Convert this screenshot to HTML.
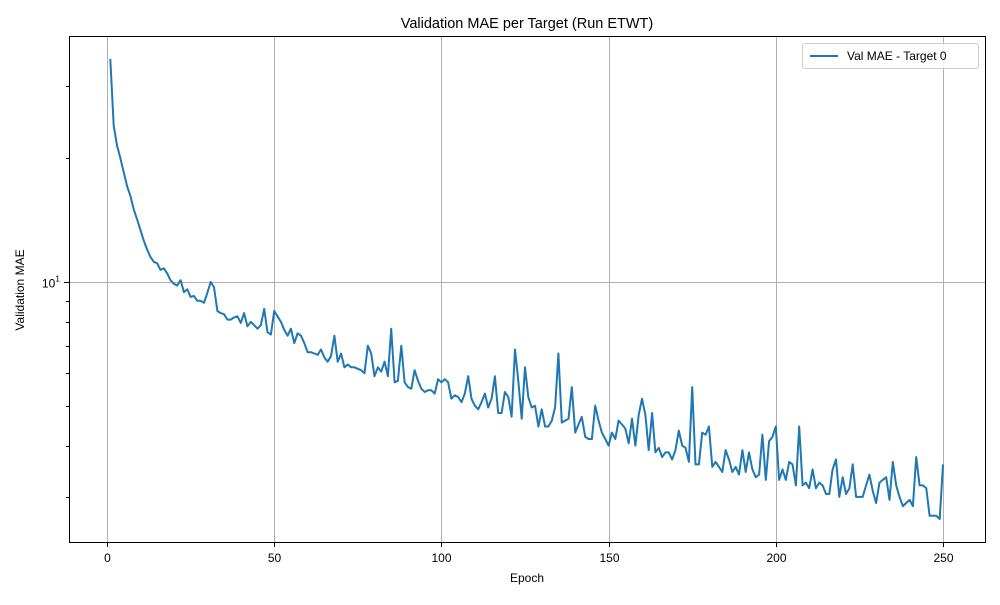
<!DOCTYPE html>
<html><head><meta charset="utf-8"><style>
body{margin:0;background:#fff;font-family:"Liberation Sans","DejaVu Sans",sans-serif}
svg text{font-family:"Liberation Sans","DejaVu Sans",sans-serif;fill:#000}
</style></head><body>
<svg id="chart" width="1000" height="600" xmlns="http://www.w3.org/2000/svg">
<rect width="1000" height="600" fill="#fff"/>
<text x="527" y="28" font-size="14.5" text-anchor="middle">Validation MAE per Target (Run ETWT)</text>
<g id="grid"></g>
<g id="ticks"></g>
<path id="line" fill="none" stroke="#1f77b4" stroke-width="2" stroke-linejoin="round"/>
<rect x="69.5" y="36.5" width="916" height="506" fill="none" stroke="#000" stroke-width="1"/>
<text x="527" y="582" font-size="12" text-anchor="middle">Epoch</text>
<text transform="translate(24,290) rotate(-90)" font-size="12" text-anchor="middle">Validation MAE</text>
<g>
<rect x="802.5" y="43.5" width="176" height="25" rx="3" fill="#fff" fill-opacity="0.8" stroke="#ccc"/>
<line x1="810" y1="56" x2="838" y2="56" stroke="#1f77b4" stroke-width="2"/>
<text x="847" y="60" font-size="12">Val MAE - Target 0</text>
</g>
</svg>
<script>
const values=[34.9,24.0,21.5,20.0,18.5,17.1,16.2,15.0,14.2,13.4,12.6,12.0,11.5,11.2,11.1,10.7,10.8,10.5,10.1,9.9,
9.8,10.1,9.45,9.6,9.2,9.25,9.0,9.0,8.9,9.4,10.0,9.7,8.5,8.4,8.35,8.1,8.1,8.2,8.25,7.95,
8.4,7.8,8.0,7.85,7.7,7.85,8.6,7.55,7.45,8.5,8.25,8.0,7.65,7.4,7.7,7.1,7.5,7.4,7.1,6.75,
6.75,6.7,6.65,6.85,6.55,6.4,6.6,7.4,6.4,6.7,6.2,6.3,6.2,6.2,6.15,6.1,6.0,7.0,6.7,5.9,
6.2,6.05,6.4,5.9,7.7,5.7,5.75,7.0,5.7,5.55,5.5,6.1,5.75,5.5,5.4,5.45,5.45,5.35,5.8,5.7,
5.8,5.7,5.2,5.3,5.25,5.1,5.35,5.9,5.2,5.0,4.9,5.1,5.35,4.95,5.2,5.9,4.8,4.8,5.4,5.25,
4.7,6.85,5.75,4.65,6.2,5.25,4.95,5.0,4.45,4.9,4.45,4.45,4.6,4.95,6.7,4.55,4.6,4.65,5.55,4.3,
4.5,4.7,4.2,4.15,4.15,5.0,4.6,4.3,4.15,4.0,4.3,4.15,4.6,4.5,4.4,4.05,4.65,4.0,4.75,5.2,
4.75,3.9,4.8,3.85,3.95,3.75,3.85,3.85,3.7,3.9,4.35,4.0,3.95,3.65,5.55,3.6,3.6,4.3,4.25,4.45,
3.55,3.65,3.55,3.45,3.9,3.7,3.45,3.55,3.4,3.9,3.45,3.85,3.5,3.35,3.4,4.25,3.3,4.1,4.2,4.45,
3.3,3.5,3.3,3.65,3.6,3.2,4.45,3.2,3.25,3.15,3.5,3.15,3.25,3.2,3.05,3.05,3.5,3.7,3.0,3.35,
3.05,3.15,3.6,3.0,3.0,3.0,3.2,3.4,3.1,2.9,3.25,3.3,3.35,2.95,3.65,3.2,3.0,2.85,2.9,2.95,
2.85,3.75,3.2,3.2,3.15,2.7,2.7,2.7,2.65,3.6];
const xTicks=[0,50,100,150,200,250];
const yMajor=[10];
const yMinor=[3,4,5,6,7,8,9,20,30];
const NS="http://www.w3.org/2000/svg";
const xs=e=>107+(e-0)*(943-107)/250;
const ys=v=>282-411*Math.log10(v/10);
const grid=document.getElementById('grid'),ticks=document.getElementById('ticks');
function mk(tag,attrs,parent){const el=document.createElementNS(NS,tag);for(const k in attrs)el.setAttribute(k,attrs[k]);parent.appendChild(el);return el;}
xTicks.forEach(t=>{const x=Math.round(xs(t))+0.5;
 const g=mk('line',{x1:x,x2:x,y1:37,y2:542,stroke:'#b0b0b0','stroke-width':1},grid);
 
 
 mk('line',{x1:x,x2:x,y1:542,y2:547,stroke:'#000'},ticks);
 const tx=mk('text',{x:x,y:562,'font-size':12,'text-anchor':'middle'},ticks);tx.textContent=t;
 
 });
yMajor.forEach(v=>{const y=Math.round(ys(v))+0.5;
 const g=mk('line',{x1:69,x2:985,y1:y,y2:y,stroke:'#b0b0b0','stroke-width':1},grid);
 
 
 mk('line',{x1:64,x2:69,y1:y,y2:y,stroke:'#000'},ticks);
 const tx=mk('text',{x:60,y:y+5,'font-size':12,'text-anchor':'end'},ticks);
 tx.innerHTML='10<tspan dy="-6" font-size="8.5">1</tspan>';
 
 });
yMinor.forEach(v=>{const y=Math.round(ys(v))+0.5;mk('line',{x1:66,x2:69,y1:y,y2:y,stroke:'#000'},ticks);});
document.getElementById('line').setAttribute('d',values.map((v,i)=>(i?'L':'M')+xs(i+1).toFixed(1)+','+ys(v).toFixed(1)).join(''));
</script>
</body></html>
